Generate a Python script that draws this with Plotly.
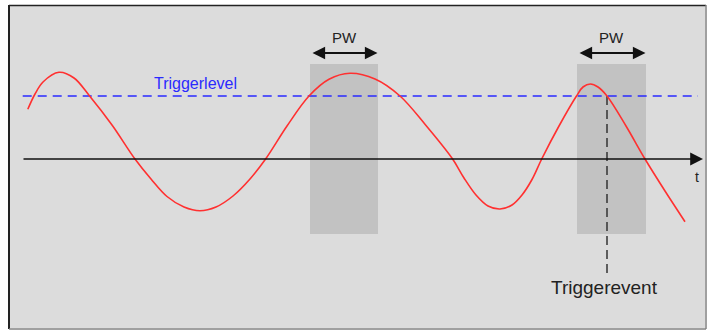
import plotly.graph_objects as go

# signal: time (arbitrary units) vs amplitude
time_pts = [0.58, 1.3, 2.1, 3.7, 5.2, 6.76, 9.0, 11.3, 12.9, 14.5, 16.2,
            17.8, 19.4, 21.1, 22.8, 24.36, 26.5, 28.7, 30.7, 32.8, 35.3,
            37.8, 40.4, 43.06, 44.2, 45.4, 46.6, 47.8, 49.0, 50.0, 51.0,
            51.97, 53.7, 55.45, 56.1, 56.84, 57.6, 58.5, 60.4, 62.3, 64.3, 66.3]
signal_pts = [4.97, 6.5, 7.7, 8.67, 8.1, 6.3, 3.4, 0.0, -2.0, -3.75, -4.8,
              -5.17, -4.8, -3.7, -2.0, 0.0, 3.3, 6.3, 7.97, 8.57, 8.0,
              6.3, 3.35, 0.0, -1.9, -3.6, -4.7, -5.0, -4.6, -3.6, -2.05,
              0.0, 3.3, 6.3, 7.2, 7.5, 7.2, 6.3, 3.3, 0.0, -3.2, -6.27]

trigger_level = 6.3
trigger_time = 58.5
trigger_line_span = [0.07, 67.6]

# pulse-width windows
pw_start = [28.8, 55.5]
pw_end = [35.6, 62.4]
pw_top = 9.5
pw_bottom = -7.5

W, H = 707, 330
X_RANGE = [-2.2, 68.5]
Y_RANGE = [-17.1, 15.9]
FONT = "Liberation Sans, Arial, sans-serif"
BLUE = "#2a2aff"


def px(x):
    return x / W


def py(y):
    return 1 - y / H


fig = go.Figure()

# trigger level
fig.add_trace(go.Scatter(
    x=trigger_line_span, y=[trigger_level, trigger_level], mode="lines",
    line=dict(color=BLUE, width=1.5, dash="9px,6px"), hoverinfo="skip"))

# trigger event marker
fig.add_trace(go.Scatter(
    x=[trigger_time, trigger_time], y=[trigger_level, -11.5], mode="lines",
    line=dict(color="#333333", width=1.5, dash="9px,5px"), hoverinfo="skip"))

# signal
fig.add_trace(go.Scatter(
    x=time_pts, y=signal_pts, mode="lines",
    line=dict(color="#ff3030", width=1.6, shape="spline", smoothing=1.0),
    hoverinfo="skip"))

shapes = [
    dict(type="rect", xref="paper", yref="paper", x0=px(10), x1=px(705),
         y0=py(328), y1=py(6), fillcolor="#dcdcdc", line_width=0, layer="below"),
    dict(type="line", xref="paper", yref="paper", x0=px(9), x1=px(9),
         y0=py(329), y1=py(5), line=dict(color="#222222", width=2), layer="below"),
    dict(type="line", xref="paper", yref="paper", x0=px(9), x1=px(706),
         y0=py(5.5), y1=py(5.5), line=dict(color="#222222", width=1.5), layer="below"),
    dict(type="line", xref="paper", yref="paper", x0=px(706), x1=px(706),
         y0=py(329), y1=py(5), line=dict(color="#808080", width=1.5), layer="below"),
    dict(type="line", xref="paper", yref="paper", x0=px(9), x1=px(706),
         y0=py(329), y1=py(329), line=dict(color="#808080", width=1.5), layer="below"),
]
for s, e in zip(pw_start, pw_end):
    shapes.append(dict(type="rect", xref="x", yref="y", x0=s, x1=e,
                       y0=pw_bottom, y1=pw_top, fillcolor="#c2c2c2",
                       line_width=0, layer="below"))

annotations = [
    # time axis
    dict(x=68.1, y=0, ax=0, ay=0, xref="x", yref="y", axref="x", ayref="y",
         text="", showarrow=True, arrowhead=2, arrowsize=1.6, arrowwidth=1.6,
         arrowcolor="#111111"),
    dict(x=67.5, y=-1.8, xref="x", yref="y", text="t", showarrow=False,
         font=dict(family=FONT, size=14, color="#222222")),
    dict(x=17.35, y=7.6, xref="x", yref="y", text="Triggerlevel", showarrow=False,
         font=dict(family=FONT, size=16, color=BLUE)),
    dict(x=58.2, y=-12.8, xref="x", yref="y", text="Triggerevent", showarrow=False,
         font=dict(family=FONT, size=19, color="#222222")),
]
for s, e in zip(pw_start, pw_end):
    mid = (s + e) / 2
    annotations.append(dict(x=e - 0.05, y=10.6, ax=s + 0.1, ay=10.6, xref="x", yref="y",
                            axref="x", ayref="y", text="", showarrow=True,
                            arrowhead=2, arrowside="end+start", arrowsize=1.4,
                            arrowwidth=1.8, arrowcolor="#111111"))
    annotations.append(dict(x=mid, y=12.2, xref="x", yref="y", text="PW",
                            showarrow=False,
                            font=dict(family=FONT, size=15, color="#222222")))

fig.update_layout(
    width=W, height=H, margin=dict(l=0, r=0, t=0, b=0),
    paper_bgcolor="white", plot_bgcolor="white", showlegend=False,
    xaxis=dict(range=X_RANGE, visible=False, fixedrange=True),
    yaxis=dict(range=Y_RANGE, visible=False, fixedrange=True),
    shapes=shapes, annotations=annotations,
)

fig.write_html("out.html", config={"displayModeBar": False},
               post_script="document.body.style.margin='0';")
